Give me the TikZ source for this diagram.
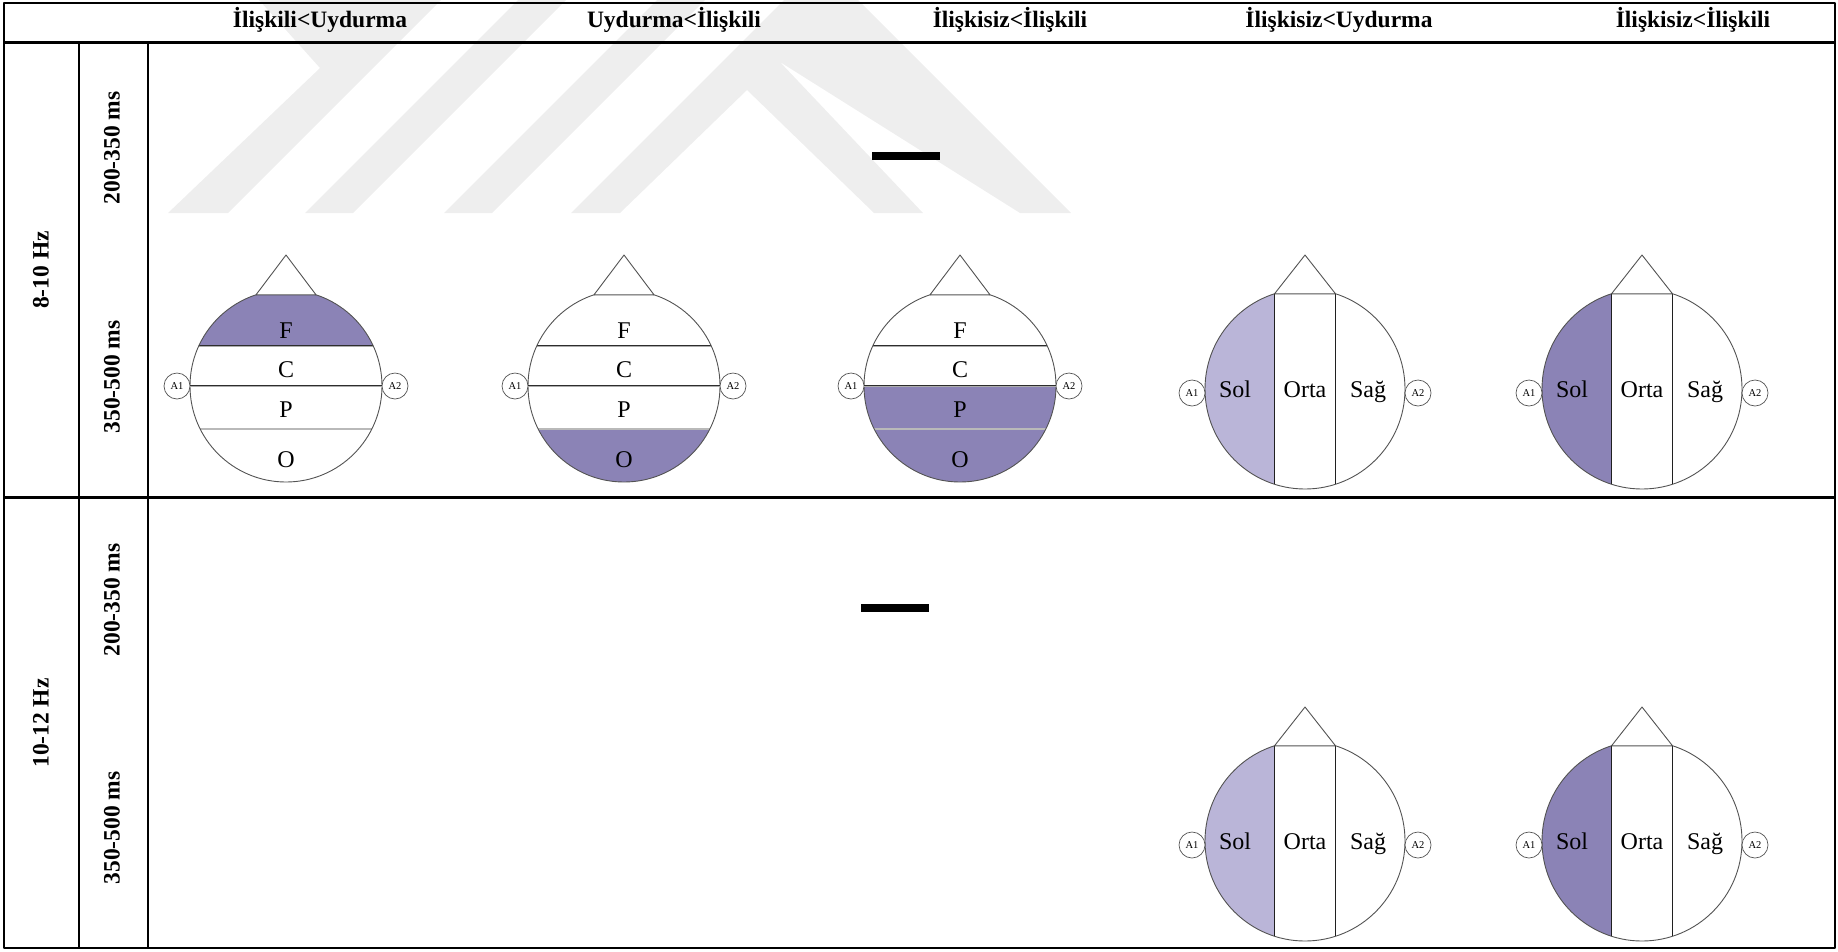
\documentclass[tikz,border=0pt]{standalone}
\usepackage{fontspec}
\setmainfont{Liberation Serif}
\usepackage{xcolor}
\usetikzlibrary{positioning}
\definecolor{roidark}{RGB}{139,131,182}
\definecolor{roilight}{RGB}{186,181,216}
\definecolor{wmgray}{RGB}{238,238,238}

\begin{document}
\begin{tikzpicture}[x=1pt, y=-1pt, line join=round]

        % Styles
        \tikzset{
            tabline/.style={line width=2.6pt, black},
            colhead/.style={font=\bfseries\fontsize{23.5}{28}\selectfont, anchor=base},
            rowlabel/.style={font=\bfseries\fontsize{23.5}{28}\selectfont, rotate=90},
            region/.style={font=\fontsize{24}{28}\selectfont, inner sep=0pt, anchor=base},
            electrode/.style={circle, draw=gray!65!black, line width=0.7pt, fill=white, minimum size=26pt, inner sep=0pt, font=\fontsize{10.5}{12}\selectfont},
            headline/.style={draw=gray!65!black, line width=0.9pt},
            bandline/.style={draw=gray!35!black, line width=0.8pt, double=gray!65, double distance=0.9pt},
            softline/.style={draw=gray!55, line width=1.1pt},
            midline/.style={draw=gray!25!black, line width=1.4pt},
            dashbar/.style={fill=black, minimum width=68pt, minimum height=8pt, inner sep=0pt},
            watermark/.style={fill=wmgray},
            % head split into F / C / P / O
            pics/fcpohead/.style n args={4}{code={
                \fill[white] (0,0) circle[radius=96];
                \begin{scope}
                    \clip (0,0) circle[radius=96];
                    \fill[#1] (-96,-96) rectangle (96,-40);
                    \fill[#2] (-96,-40) rectangle (96,0);
                    \fill[#3] (-96,0) rectangle (96,43);
                    \fill[#4] (-96,43) rectangle (96,96);
                \end{scope}
                \draw[softline] (-85.8,43) -- (85.8,43);
                \draw[bandline] (-87.3,-40) -- (87.3,-40);
                \draw[headline] (0,0) circle[radius=96];
                \draw[headline, fill=white] (-30,-91.2) -- (0,-131) -- (30,-91.2) -- cycle;
                \node[electrode] (-a1) at (-109,0) {A1};
                \node[electrode] (-a2) at (109,0) {A2};
                \draw[bandline] (-a1) -- (-a2);
                \node[region] (-f) at (0,-48) {F};
                \node[region] (-c) at (0,-9) {C};
                \node[region] (-p) at (0,31) {P};
                \node[region] (-o) at (0,81) {O};
            }},
            % head split into Sol / Orta / Sag
            pics/lrhead/.style n args={3}{code={
                \fill[white] (0,0) circle[radius=100];
                \begin{scope}
                    \clip (0,0) circle[radius=100];
                    \fill[#1] (-100,-100) rectangle (-30.5,100);
                    \fill[#2] (-30.5,-100) rectangle (30.5,100);
                    \fill[#3] (30.5,-100) rectangle (100,100);
                \end{scope}
                \draw[headline] (0,0) circle[radius=100];
                \draw[midline] (-30.5,-95.2) -- (-30.5,95.2);
                \draw[midline] (30.5,-95.2) -- (30.5,95.2);
                \draw[headline, fill=white] (-30.5,-95.2) -- (0,-134) -- (30.5,-95.2) -- cycle;
                \node[electrode] (-a1) at (-113,4) {A1};
                \node[electrode] (-a2) at (113,4) {A2};
                \node[region] (-sol) at (-70,8) {Sol};
                \node[region] (-orta) at (0,8) {Orta};
                \node[region] (-sag) at (63,8) {Sağ};
            }}
        }

        \useasboundingbox (0,0) rectangle (1838,951);

        % --- Watermark ---
        \fill[watermark] (168,213) -- (320,68) -- (259,0) -- (441,0) -- (228,213) -- cycle;
        \fill[watermark] (305,213) -- (353,213) -- (566,0) -- (518,0) -- cycle;
        \fill[watermark] (444,213) -- (492,213) -- (705,0) -- (657,0) -- cycle;
        \fill[watermark] (571,213) -- (620,213) -- (747,90) -- (874,213) -- (923,213) -- (780,62)
            -- (1020,213) -- (1071,213) -- (858,0) -- (784,0) -- cycle;

        % --- Heads, 8-10 Hz ---
        \pic (h1) at (286,386) {fcpohead={roidark}{white}{white}{white}};
        \pic (h2) at (624,386) {fcpohead={white}{white}{white}{roidark}};
        \pic (h3) at (960,386) {fcpohead={white}{white}{roidark}{roidark}};
        \pic (h4) at (1305,389) {lrhead={roilight}{white}{white}};
        \pic (h5) at (1642,389) {lrhead={roidark}{white}{white}};

        % --- Heads, 10-12 Hz ---
        \pic (h6) at (1305,841) {lrhead={roilight}{white}{white}};
        \pic (h7) at (1642,841) {lrhead={roidark}{white}{white}};

        % Bars
        \node[dashbar] (d1) at (906,156) {};
        \node[dashbar] (d2) at (894.5,608) {};

        % --- Table ---
        \draw[tabline] (4,3) rectangle (1835,948);
        \draw[tabline] (4,42.5) -- (1835,42.5);
        \draw[tabline] (4,497.5) -- (1835,497.5);
        \draw[tabline] (79,42.5) -- (79,948);
        \draw[tabline] (148,42.5) -- (148,948);

        % Column titles
        \node[colhead] (c1) at (320,27) {İlişkili<Uydurma};
        \node[colhead] (c2) at (674,27) {Uydurma<İlişkili};
        \node[colhead] (c3) at (1010,27) {İlişkisiz<İlişkili};
        \node[colhead] (c4) at (1339,27) {İlişkisiz<Uydurma};
        \node[colhead] (c5) at (1693,27) {İlişkisiz<İlişkili};

        % Row titles
        \node[rowlabel] (f1) at (41,270) {8-10 Hz};
        \node[rowlabel] (t11) at (112,148) {200-350 ms};
        \node[rowlabel] (t12) at (112,377) {350-500 ms};
        \node[rowlabel] (f2) at (41,723) {10-12 Hz};
        \node[rowlabel] (t21) at (112,600) {200-350 ms};
        \node[rowlabel] (t22) at (112,828) {350-500 ms};

    \end{tikzpicture}
\end{document}
